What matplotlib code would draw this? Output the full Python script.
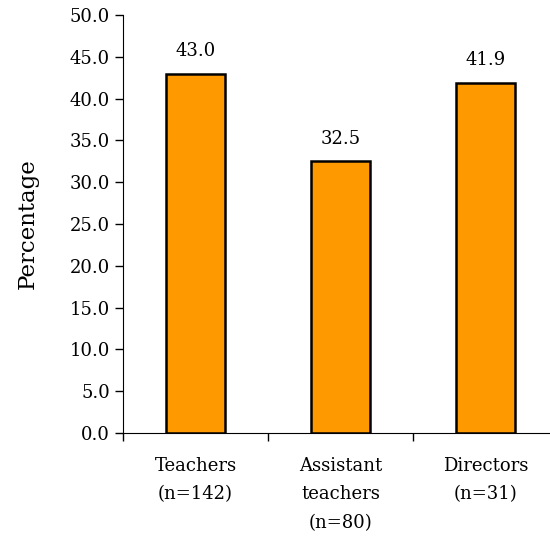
import matplotlib.pyplot as plt
import numpy as np

categories = ['Teachers\n(n=142)', 'Assistant\nteachers\n(n=80)', 'Directors\n(n=31)']
values = [43.0, 32.5, 41.9]
yticks = np.arange(0, 50.1, 5)

plt.rcParams['font.family'] = ['DejaVu Serif']

fig = plt.figure(figsize=(5.5, 5.37), dpi=100)
ax = fig.add_axes([0.2236, 0.1937, 0.7909, 0.7783])

x = np.arange(len(values))
bars = ax.bar(x, values, width=0.41, color='#FF9900', edgecolor='black', linewidth=1.8)
for xi, v in zip(x, values):
    ax.text(xi, v + 1.6, f'{v:.1f}', ha='center', va='bottom', fontsize=13)

ax.set_xlim(-0.5, 2.5)
ax.set_ylim(0, 50)
ax.set_yticks(yticks)
ax.set_yticklabels([f'{t:.1f}' for t in yticks], fontsize=13)
ax.tick_params(axis='y', direction='out', length=6, width=1)

# category boundaries get tick marks, the names sit in between
ax.set_xticks(np.arange(-0.5, 2.6, 1))
ax.set_xticklabels([])
ax.set_xticks(x, minor=True)
ax.set_xticklabels(categories, minor=True, fontsize=13, linespacing=1.75)
ax.tick_params(axis='x', which='major', direction='out', length=6, width=1)
ax.tick_params(axis='x', which='minor', length=0, pad=17)

ax.spines['top'].set_visible(False)
ax.spines['right'].set_visible(False)
ax.set_ylabel('Percentage', fontsize=16.5, labelpad=22)

fig.savefig('out.png', dpi=100)
